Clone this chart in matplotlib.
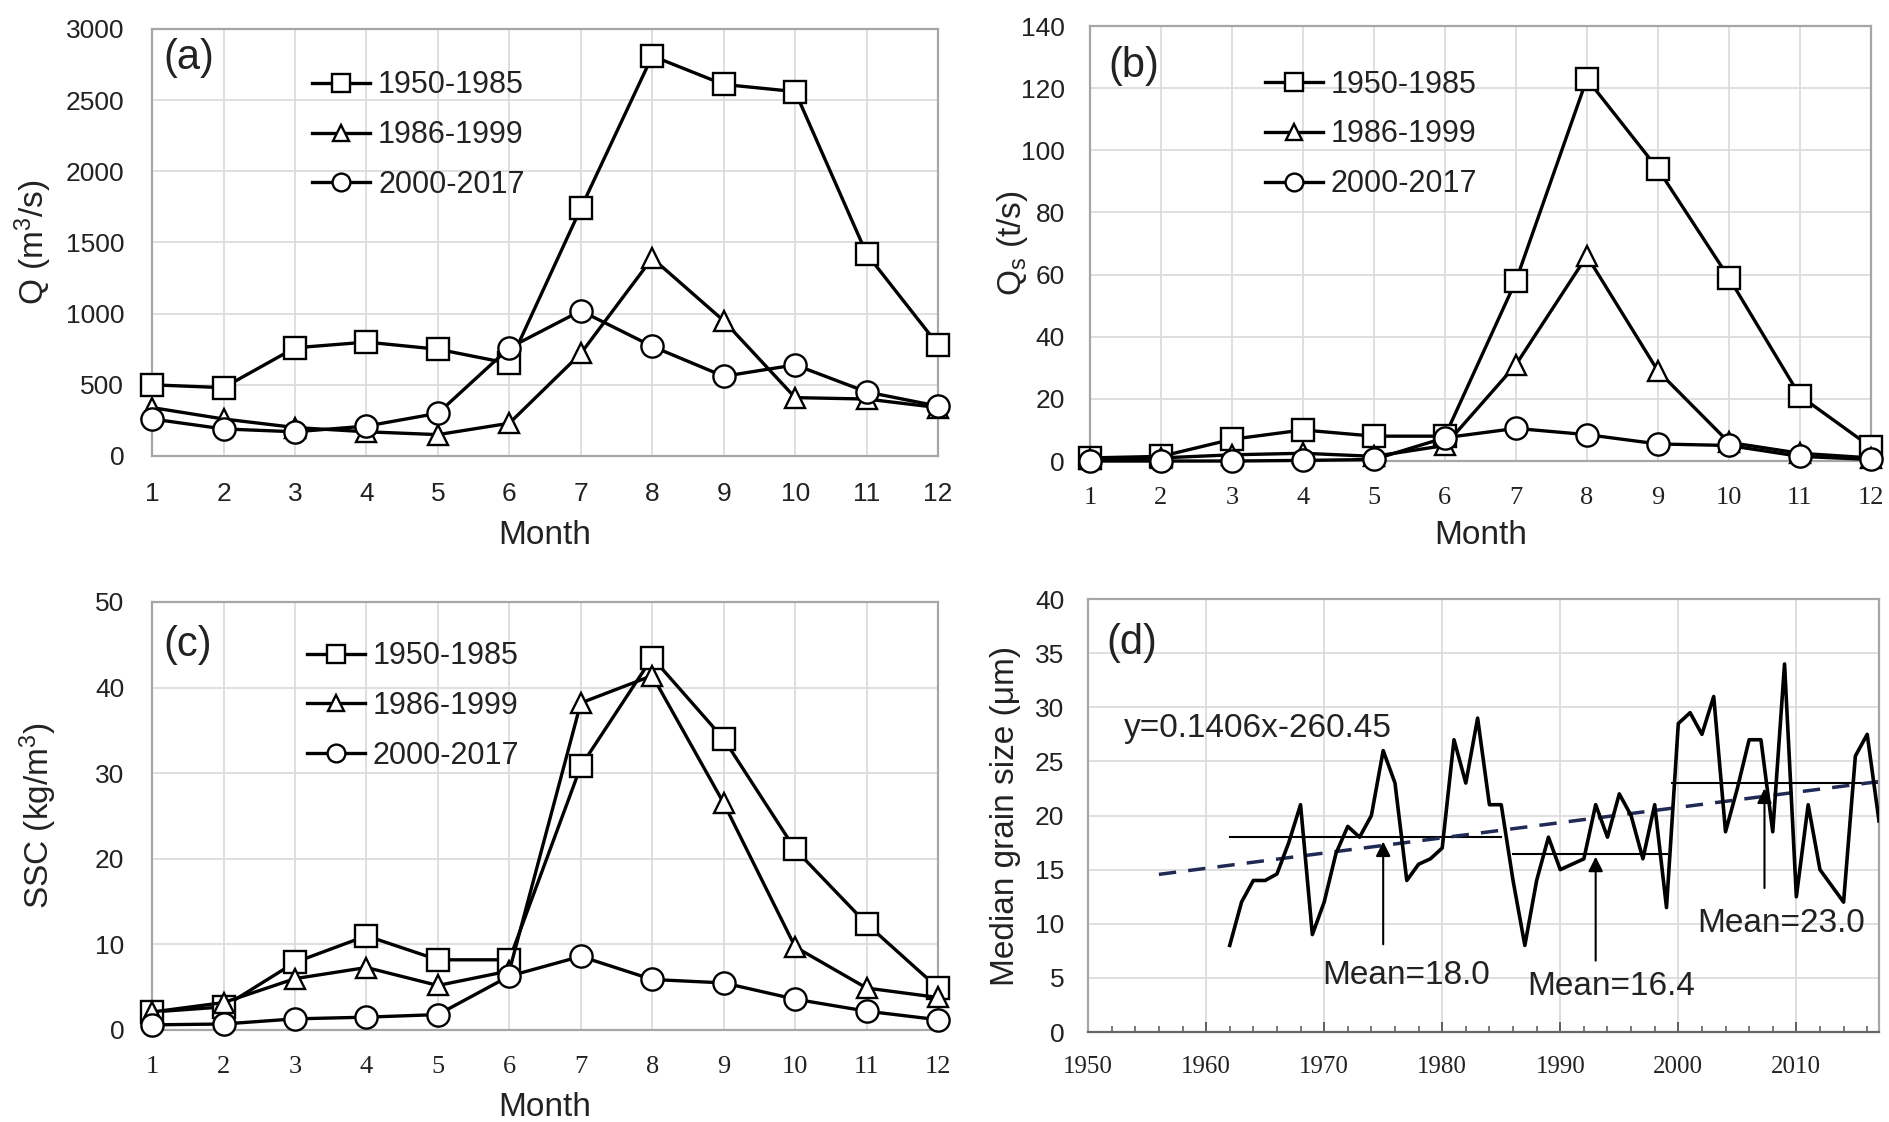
import matplotlib
matplotlib.use('Agg')
import matplotlib.pyplot as plt
import numpy as np

plt.rcParams['font.family'] = ['Liberation Sans', 'DejaVu Sans']
plt.rcParams['mathtext.default'] = 'regular'

# ---- data ----
months = np.arange(1, 13)
periods = ['1950-1985', '1986-1999', '2000-2017']

q_1950 = [500, 480, 760, 800, 750, 650, 1740, 2810, 2610, 2560, 1420, 780]
q_1986 = [340, 260, 200, 170, 150, 230, 720, 1390, 950, 410, 400, 340]
q_2000 = [260, 190, 170, 210, 300, 760, 1020, 770, 560, 640, 450, 350]

qs_1950 = [1, 1.5, 7, 10, 8, 8, 58, 123, 94, 59, 21, 4.5]
qs_1986 = [0.5, 1, 2, 2.5, 1.5, 5, 31, 66, 29, 6, 2.5, 1]
qs_2000 = [0, 0, 0, 0.2, 0.5, 7.5, 10.5, 8.5, 5.5, 5, 1.5, 0.5]

ssc_1950 = [2.1, 2.7, 7.9, 11, 8.2, 8.2, 30.8, 43.5, 34, 21.1, 12.4, 4.9]
ssc_1986 = [2.1, 3.2, 6, 7.3, 5.2, 6.9, 38.2, 41.4, 26.5, 9.7, 4.9, 3.8]
ssc_2000 = [0.6, 0.7, 1.3, 1.5, 1.8, 6.3, 8.6, 5.9, 5.5, 3.6, 2.2, 1.2]

years = np.arange(1962, 2018)
grain = [8, 12, 14, 14, 14.6, 17.5, 21, 9, 12, 16.5, 19, 18, 20, 26, 23, 14,
         15.5, 16, 17, 27, 23, 29, 21, 21,
         14, 8, 14, 18, 15, 15.5, 16, 21, 18, 22, 20, 16, 21, 11.5,
         28.5, 29.5, 27.5, 31, 18.5, 22.5, 27, 27, 18.5, 34, 12.5, 21, 15,
         13.5, 12, 25.5, 27.5, 19.5]

mean_vals = [18.0, 16.4, 23.0]
mean_start = [1962, 1986, 1999.5]
mean_end = [1985, 1999, 2017]
mean_labels = ['Mean=18.0', 'Mean=16.4', 'Mean=23.0']

trend_coef = [0.1406, -260.45]
trend_years = [1956, 2017]

markers = ['s', '^', 'o']
grey = '#a6a6a6'
txt = '#222222'


def style_month_axis(ax, ymax, ystep, serif):
    ax.set_xlim(1, 12)
    ax.set_ylim(0, ymax)
    ax.set_xticks(months)
    ax.set_yticks(np.arange(0, ymax + ystep / 2, ystep))
    ax.grid(True, color='#dcdcdc', lw=1.3)
    ax.set_axisbelow(True)
    for s in ax.spines.values():
        s.set_color(grey)
        s.set_linewidth(1.6)
    ax.tick_params(axis='y', length=0, labelsize=19, colors=txt, pad=20)
    ax.tick_params(axis='x', length=0, labelsize=19, colors=txt, pad=19)
    if serif:
        for lab in ax.get_xticklabels():
            lab.set_family('Liberation Serif')


def draw_series(ax, series):
    for vals, m, lab in zip(series, markers, periods):
        ax.plot(months, vals, color='black', lw=2.4, marker=m, ms=15 if m == '^' else 16,
                mfc='white', mec='black', mew=1.7, label=lab, clip_on=False, zorder=3)


def add_legend(ax, x, y):
    ax.legend(loc='upper left', bbox_to_anchor=(x, y), frameon=False, fontsize=22,
              handlelength=1.9, handletextpad=0.25, labelspacing=0.65,
              borderpad=0, borderaxespad=0, markerscale=0.8, labelcolor=txt)


fig = plt.figure(figsize=(18.89, 11.22), dpi=100)
ax_a = fig.add_axes([0.0805, 0.5936, 0.4161, 0.3806])
ax_b = fig.add_axes([0.5770, 0.5891, 0.4134, 0.3877])
ax_c = fig.add_axes([0.0805, 0.0820, 0.4161, 0.3815])
ax_d = fig.add_axes([0.5760, 0.0802, 0.4187, 0.3859])

# (a)
draw_series(ax_a, [q_1950, q_1986, q_2000])
style_month_axis(ax_a, 3000, 500, serif=False)
add_legend(ax_a, 0.204, 0.903)
ax_a.set_ylabel('Q (m$^{3}$/s)', fontsize=24, color=txt, va='center')
ax_a.yaxis.set_label_coords(-0.151, 0.5)
ax_a.set_xlabel('Month', fontsize=24, color=txt, va='center')
ax_a.xaxis.set_label_coords(0.5, -0.186)
ax_a.text(0.015, 0.932, '(a)', transform=ax_a.transAxes, fontsize=30, color=txt,
          ha='left', va='center')

# (b)
draw_series(ax_b, [qs_1950, qs_1986, qs_2000])
style_month_axis(ax_b, 140, 20, serif=True)
ax_b.tick_params(axis='y', pad=18)
add_legend(ax_b, 0.224, 0.900)
ax_b.set_ylabel('Q$_{s}$ (t/s)', fontsize=24, color=txt, va='center')
ax_b.yaxis.set_label_coords(-0.099, 0.5)
ax_b.set_xlabel('Month', fontsize=24, color=txt, va='center')
ax_b.xaxis.set_label_coords(0.5, -0.171)
ax_b.text(0.024, 0.908, '(b)', transform=ax_b.transAxes, fontsize=30, color=txt,
          ha='left', va='center')

# (c)
draw_series(ax_c, [ssc_1950, ssc_1986, ssc_2000])
style_month_axis(ax_c, 50, 10, serif=True)
add_legend(ax_c, 0.197, 0.908)
ax_c.set_ylabel('SSC (kg/m$^{3}$)', fontsize=24, color=txt, va='center')
ax_c.yaxis.set_label_coords(-0.145, 0.5)
ax_c.set_xlabel('Month', fontsize=24, color=txt, va='center')
ax_c.xaxis.set_label_coords(0.5, -0.182)
ax_c.text(0.015, 0.90, '(c)', transform=ax_c.transAxes, fontsize=30, color=txt,
          ha='left', va='center')

# (d)
ax_d.plot(years, grain, color='black', lw=2.6, zorder=3)
for v, x0, x1 in zip(mean_vals, mean_start, mean_end):
    ax_d.plot([x0, x1], [v, v], color='black', lw=1.5, zorder=2)
ax_d.plot(trend_years, np.polyval(trend_coef, trend_years), color='#1f2a55',
          lw=2.5, ls=(0, (5, 3.5)), zorder=2)

arrow_x = [1975, 1993, 2007.3]
arrow_from = [8.1, 6.6, 13.3]
arrow_to = [17.6, 16.2, 22.5]
for x, y0, y1 in zip(arrow_x, arrow_from, arrow_to):
    ax_d.annotate('', xy=(x, y1), xytext=(x, y0),
                  arrowprops=dict(arrowstyle='-|>', color='black', lw=1.5,
                                  mutation_scale=22, shrinkA=0, shrinkB=0))

label_pos = [(1969.8, 5.2), (1987.2, 4.2), (2001.6, 10.0)]
for (x, y), lab in zip(label_pos, mean_labels):
    ax_d.text(x, y, lab, fontsize=24, color=txt, ha='left', va='center')
ax_d.text(1953, 28.0, 'y=0.1406x-260.45', fontsize=24, color=txt, ha='left', va='center')

ax_d.set_xlim(1950, 2017)
ax_d.set_ylim(0, 40)
ax_d.set_xticks(np.arange(1950, 2011, 10))
ax_d.set_xticks(np.arange(1950, 2018, 2), minor=True)
ax_d.set_yticks(np.arange(0, 41, 5))
ax_d.grid(True, which='major', color='#dcdcdc', lw=1.3)
ax_d.set_axisbelow(True)
for s in ax_d.spines.values():
    s.set_color(grey)
    s.set_linewidth(1.6)
ax_d.spines['bottom'].set_color('#666666')
ax_d.tick_params(axis='y', length=0, labelsize=19, colors=txt, pad=17)
ax_d.tick_params(axis='x', which='major', direction='in', length=7, width=1.3,
                 color='#555555', labelsize=18, labelcolor=txt, pad=17)
ax_d.tick_params(axis='x', which='minor', direction='in', length=4, width=1.1,
                 color='#555555')
for lab in ax_d.get_xticklabels():
    lab.set_family('Liberation Serif')
ax_d.set_ylabel('Median grain size (\u03bcm)', fontsize=24, color=txt, va='center')
ax_d.yaxis.set_label_coords(-0.104, 0.5)
ax_d.text(0.023, 0.898, '(d)', transform=ax_d.transAxes, fontsize=30, color=txt,
          ha='left', va='center')

fig.savefig('out.png', dpi=100)
